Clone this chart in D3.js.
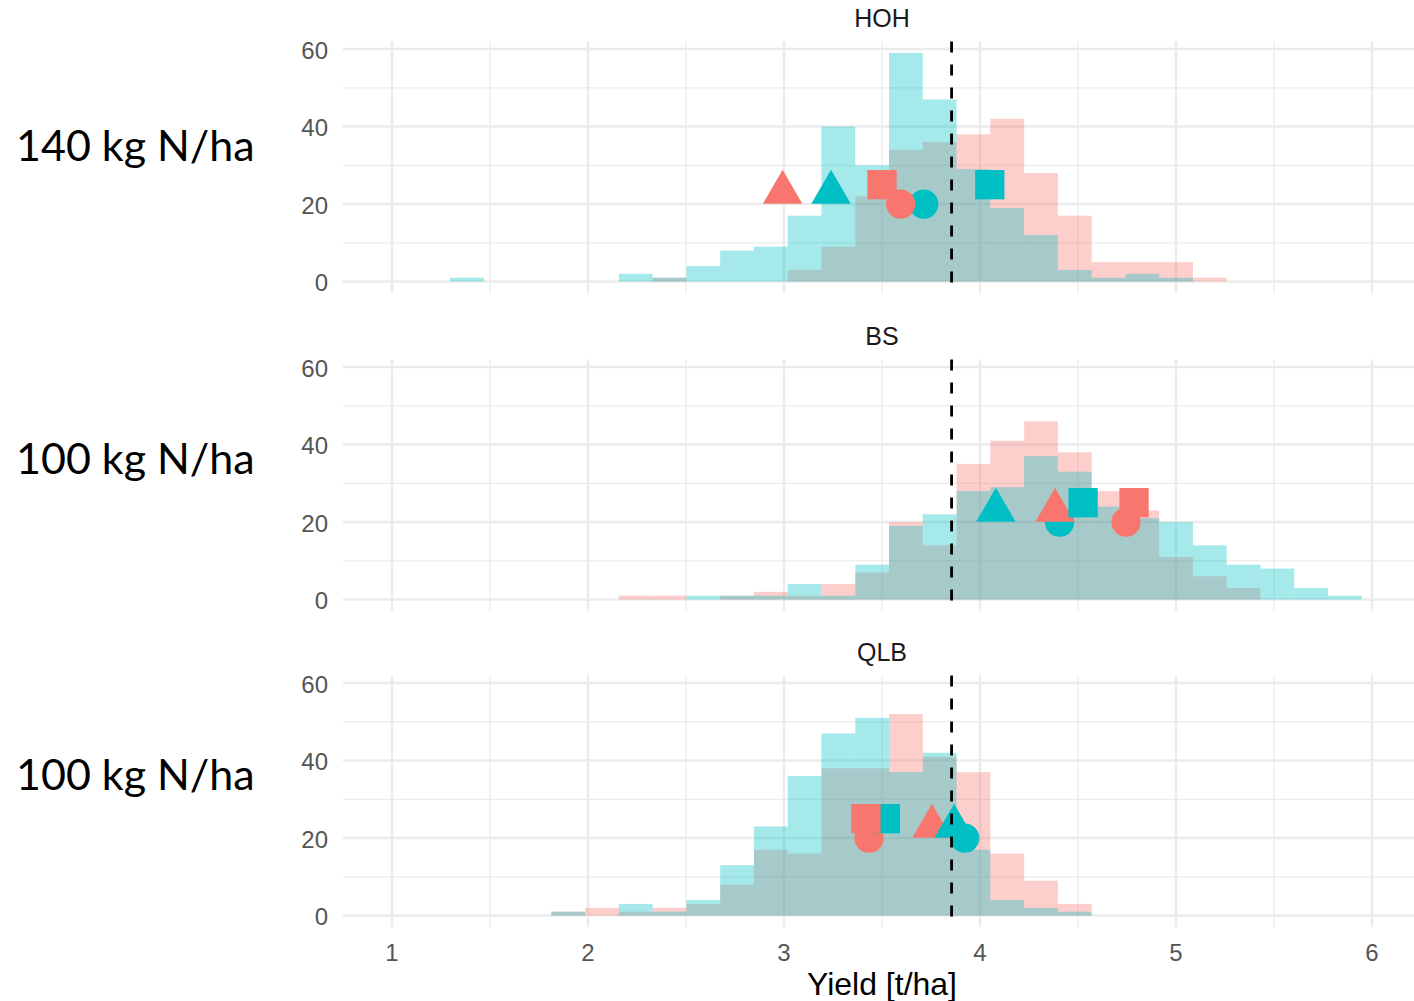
<!DOCTYPE html>
<html>
<head>
<meta charset="utf-8">
<script src="https://cdn.jsdelivr.net/npm/d3@7"></script>
<style>
  body { margin: 0; background: #fff; }
  svg { display: block; }
</style>
</head>
<body>
<svg id="chart" width="1414" height="1001"></svg>
<script>
// ---------- data ----------
const panels = ["HOH", "BS", "QLB"];
const rowLabels = ["140 kg N/ha", "100 kg N/ha", "100 kg N/ha"];
const groups = ["A", "B"];            // A = salmon, B = teal
const binStart = 1.296;
const binWidth = 0.1723;

// histogram counts per bin (27 bins), per panel
const hohA = [0,0,0,0,0,0,1,0,0,0,3,9,22,34,36,38,42,28,17,5,5,5,1,0,0,0,0];
const hohB = [1,0,0,0,0,2,1,4,8,9,17,40,30,59,47,29,19,12,3,1,2,1,0,0,0,0,0];
const bsA  = [0,0,0,0,0,1,1,0,1,2,1,4,7,20,14,35,41,46,38,28,23,11,6,3,0,0,0];
const bsB  = [0,0,0,0,0,0,0,1,1,1,4,1,9,19,22,28,29,37,33,24,21,20,14,9,8,3,1];
const qlbA = [0,0,0,1,2,1,2,3,8,17,16,38,38,52,41,37,16,9,3,0,0,0,0,0,0,0,0];
const qlbB = [0,0,0,1,0,3,1,4,13,23,36,47,51,37,42,17,4,2,1,0,0,0,0,0,0,0,0];

// marker x-values (yield) per panel, per group
const circleA   = [3.595, 4.745, 3.434];
const circleB   = [3.713, 4.406, 3.922];
const triangleA = [2.993, 4.383, 3.755];
const triangleB = [3.240, 4.081, 3.868];
const squareA   = [3.500, 4.786, 3.418];
const squareB   = [4.050, 4.526, 3.517];
const circleY = 20, triangleY = 23, squareY = 25;

const refLine = 3.855;
const xTicks = [1, 2, 3, 4, 5, 6];
const xMinor = [1.5, 2.5, 3.5, 4.5, 5.5];
const yTicks = [0, 20, 40, 60];
const yMinor = [10, 30, 50];
const xTitle = "Yield [t/ha]";

const histA = [hohA, bsA, qlbA];
const histB = [hohB, bsB, qlbB];

// ---------- layout ----------
const colors = { A: "#F8766D", B: "#00BFC4" };
const svg = d3.select("#chart");
const plotLeft = 343, plotRight = 1421;
const panelTops = [41.5, 359.5, 675.5];
const panelH = 251.5;
const labelBaselines = [161, 474, 790];

const x = d3.scaleLinear().domain([0.75, 6.25]).range([plotLeft, plotRight]);

panels.forEach((name, p) => {
  const top = panelTops[p];
  const y = d3.scaleLinear().domain([-2.95, 61.95]).range([top + panelH, top]);
  const g = svg.append("g");

  // grid
  g.selectAll(".ymin").data(yMinor).join("line")
    .attr("x1", plotLeft).attr("x2", plotRight)
    .attr("y1", d => y(d)).attr("y2", d => y(d))
    .attr("stroke", "#EBEBEB").attr("stroke-width", 1.2);
  g.selectAll(".xmin").data(xMinor).join("line")
    .attr("y1", top).attr("y2", top + panelH)
    .attr("x1", d => x(d)).attr("x2", d => x(d))
    .attr("stroke", "#EBEBEB").attr("stroke-width", 1.2);
  g.selectAll(".ymaj").data(yTicks).join("line")
    .attr("x1", plotLeft).attr("x2", plotRight)
    .attr("y1", d => y(d)).attr("y2", d => y(d))
    .attr("stroke", "#EBEBEB").attr("stroke-width", 2.4);
  g.selectAll(".xmaj").data(xTicks).join("line")
    .attr("y1", top).attr("y2", top + panelH)
    .attr("x1", d => x(d)).attr("x2", d => x(d))
    .attr("stroke", "#EBEBEB").attr("stroke-width", 2.4);

  // y tick labels
  g.selectAll(".ylab").data(yTicks).join("text")
    .attr("x", 328).attr("y", d => y(d) + 1)
    .attr("text-anchor", "end").attr("dominant-baseline", "central")
    .attr("font-family", "Liberation Sans, Arial, sans-serif")
    .attr("font-size", 24).attr("fill", "#555555")
    .text(d => d);

  // strip title
  g.append("text")
    .attr("x", (plotLeft + plotRight) / 2).attr("y", top - 15)
    .attr("text-anchor", "middle")
    .attr("font-family", "Liberation Sans, Arial, sans-serif")
    .attr("font-size", 25).attr("fill", "#1A1A1A")
    .text(name);

  // row label
  svg.append("text")
    .attr("x", 16).attr("y", labelBaselines[p])
    .attr("font-family", "Lato, 'Open Sans', sans-serif")
    .attr("font-size", 43).attr("fill", "#000")
    .text(rowLabels[p]);

  // histograms (salmon first, teal on top)
  [["A", histA[p]], ["B", histB[p]]].forEach(([grp, counts]) => {
    g.selectAll(".bar" + grp).data(counts.map((c, i) => ({c, i})).filter(d => d.c > 0))
      .join("rect")
      .attr("x", d => x(binStart + d.i * binWidth))
      .attr("width", d => x(binStart + (d.i + 1) * binWidth) - x(binStart + d.i * binWidth))
      .attr("y", d => y(d.c))
      .attr("height", d => y(0) - y(d.c))
      .attr("fill", colors[grp]).attr("fill-opacity", 0.35);
  });

  // markers
  const r = 14.65;
  const circ = (grp, xv) => g.append("circle")
    .attr("cx", x(xv)).attr("cy", y(circleY)).attr("r", r).attr("fill", colors[grp]);
  const tri = (grp, xv) => {
    const cx = x(xv), cy = y(triangleY);
    const R = 1.5551 * r, hw = 1.3468 * r, b = 0.7776 * r;
    g.append("path")
      .attr("d", `M${cx},${cy - R}L${cx + hw},${cy + b}L${cx - hw},${cy + b}Z`)
      .attr("fill", colors[grp]);
  };
  const sq = (grp, xv) => g.append("rect")
    .attr("x", x(xv) - r).attr("y", y(squareY) - r)
    .attr("width", 2 * r).attr("height", 2 * r).attr("fill", colors[grp]);

  circ("B", circleB[p]); circ("A", circleA[p]);
  tri("A", triangleA[p]); tri("B", triangleB[p]);
  sq("B", squareB[p]); sq("A", squareA[p]);

  // reference dashed line
  g.append("line")
    .attr("x1", x(refLine)).attr("x2", x(refLine))
    .attr("y1", top).attr("y2", top + panelH)
    .attr("stroke", "#000").attr("stroke-width", 2.8)
    .attr("stroke-dasharray", "11,12");
});

// x tick labels
svg.selectAll(".xlab").data(xTicks).join("text")
  .attr("x", d => x(d)).attr("y", 952)
  .attr("text-anchor", "middle").attr("dominant-baseline", "central")
  .attr("font-family", "Liberation Sans, Arial, sans-serif")
  .attr("font-size", 24).attr("fill", "#555555")
  .text(d => d);

svg.append("text")
  .attr("x", (plotLeft + plotRight) / 2).attr("y", 995)
  .attr("text-anchor", "middle")
  .attr("font-family", "Liberation Sans, Arial, sans-serif")
  .attr("font-size", 32).attr("fill", "#000")
  .text(xTitle);
</script>
</body>
</html>
